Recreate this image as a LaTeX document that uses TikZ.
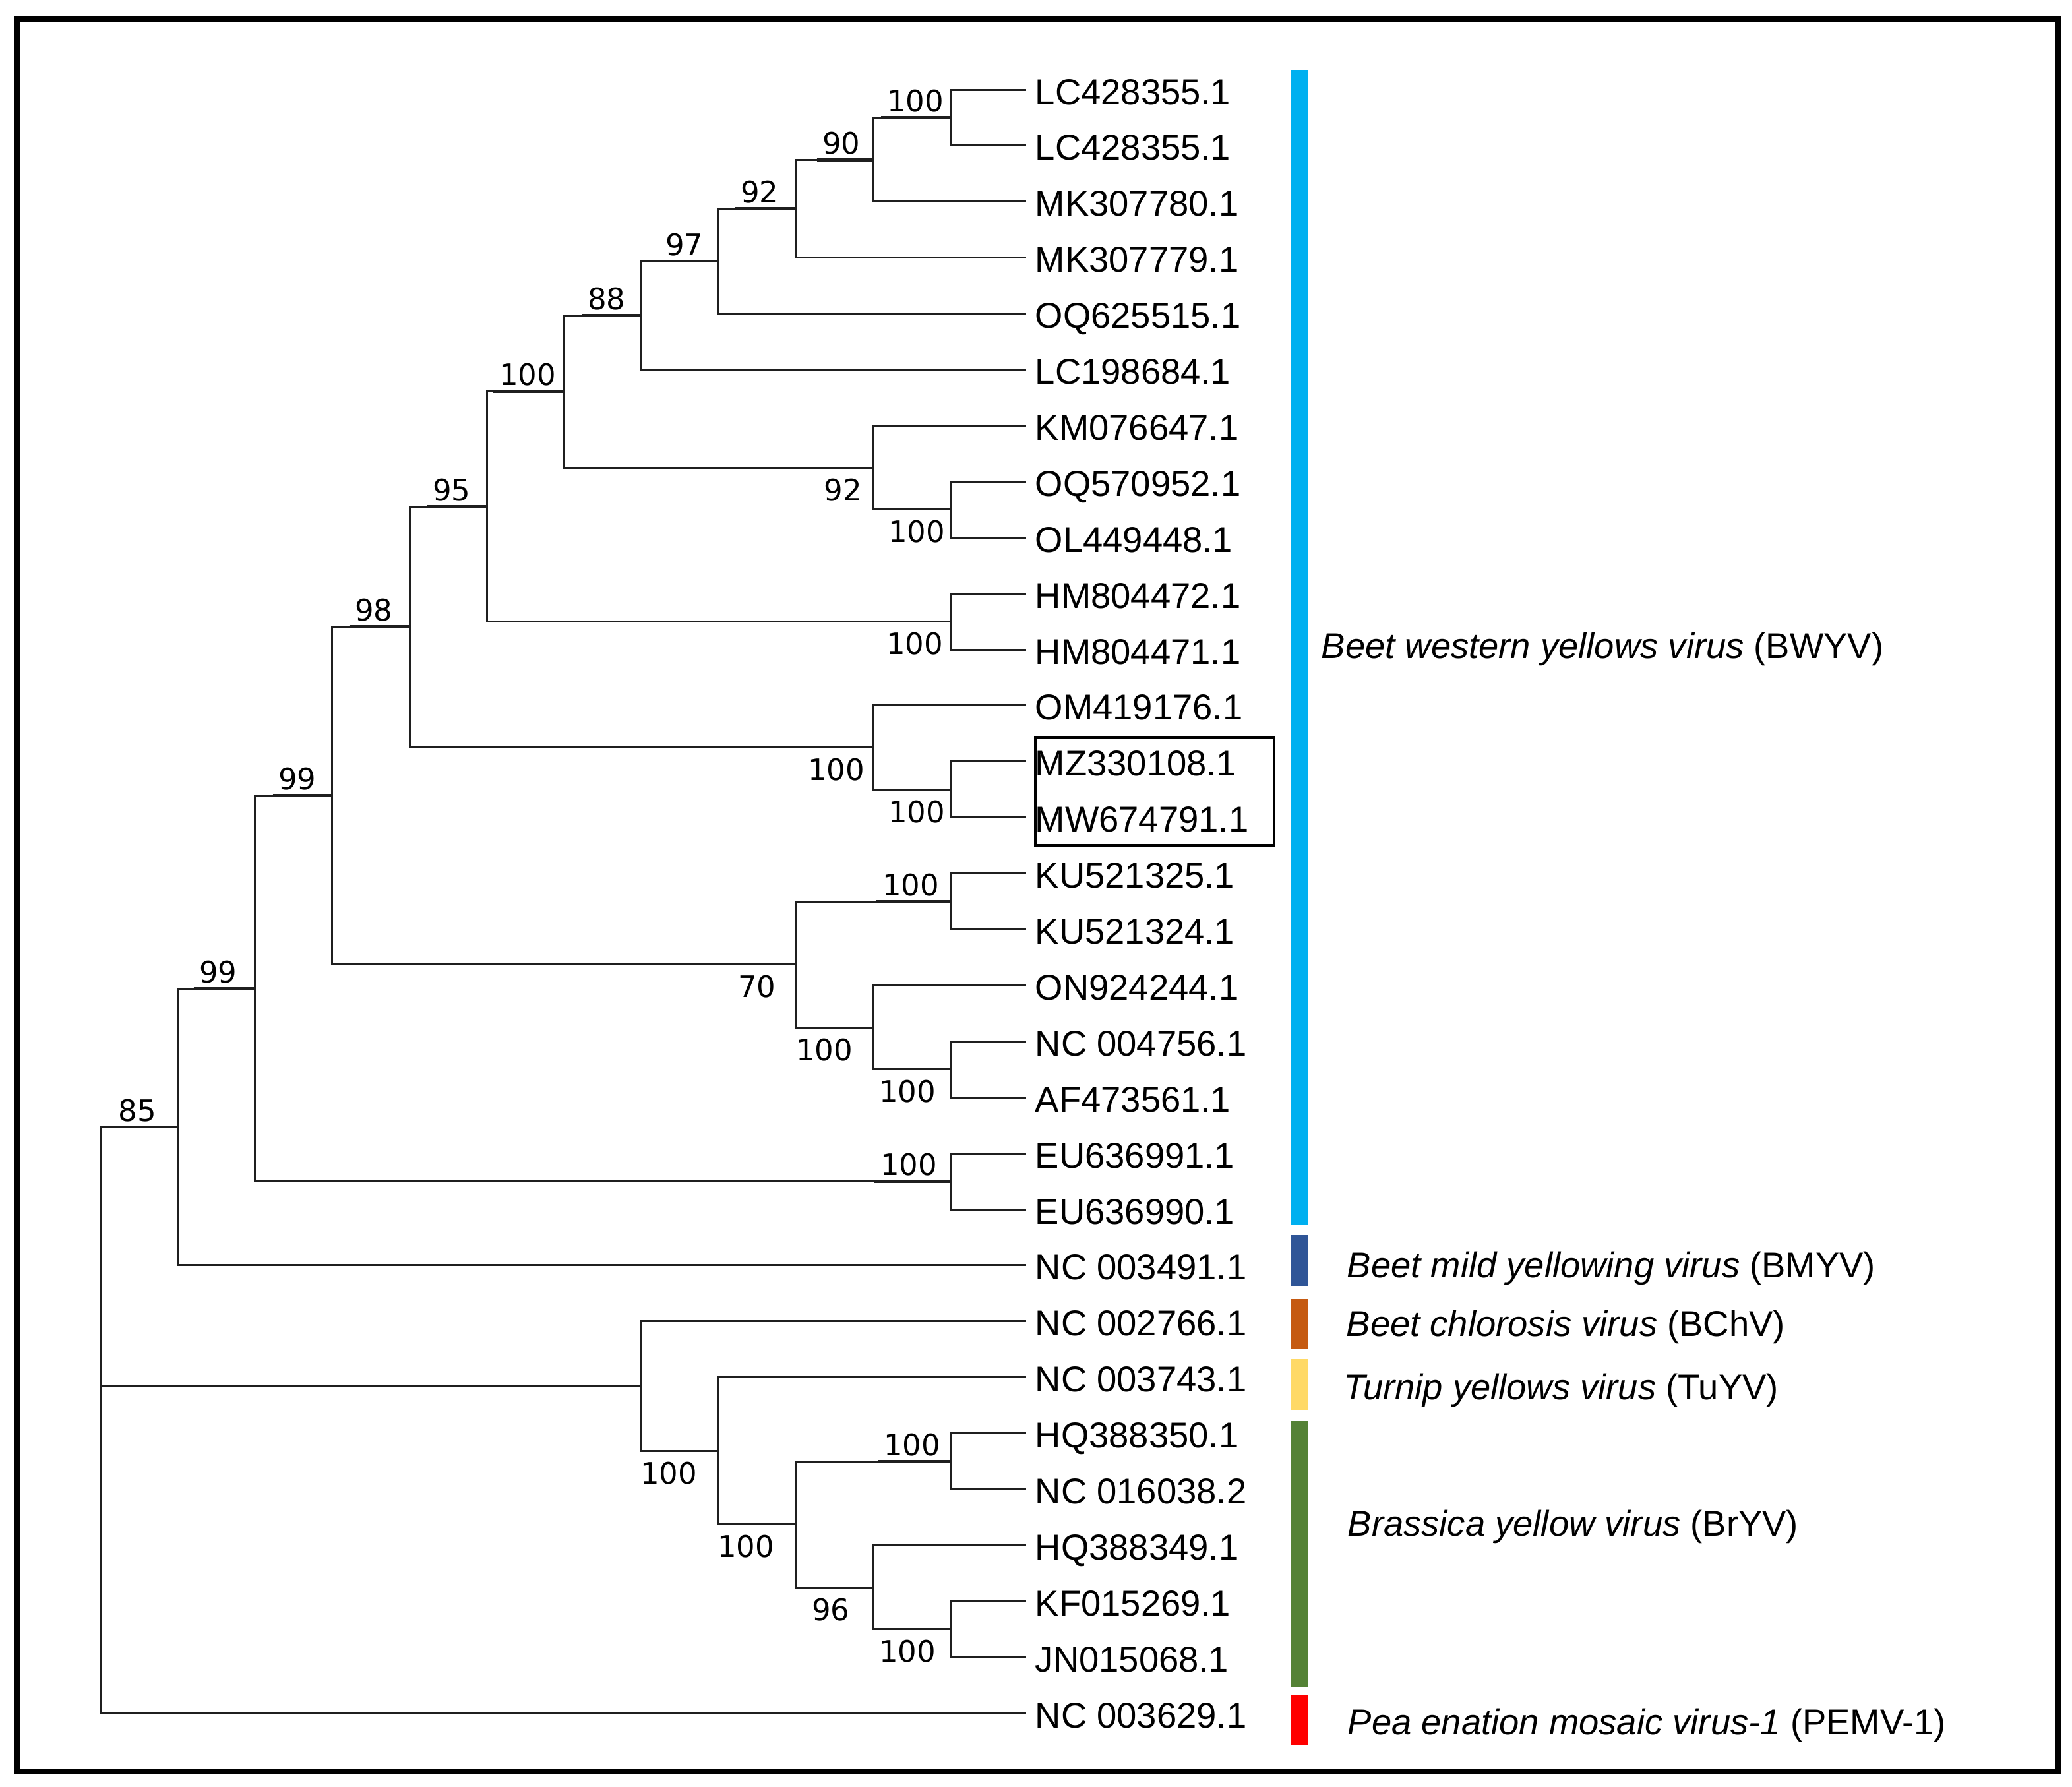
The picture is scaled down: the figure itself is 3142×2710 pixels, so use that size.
\documentclass[tikz,border=0pt]{standalone}
\usepackage{fontspec}
\setmainfont{Liberation Sans}
\newfontfamily\bootfont{DejaVu Sans}
\definecolor{cbwyv}{HTML}{00B0F0}
\definecolor{cbmyv}{HTML}{2F5597}
\definecolor{cbchv}{HTML}{C55A11}
\definecolor{ctuyv}{HTML}{FFD966}
\definecolor{cbryv}{HTML}{548235}
\definecolor{cpemv}{HTML}{FF0000}
\begin{document}
\begin{tikzpicture}[x=0.25pt,y=-0.25pt,
  branch/.style={line width=0.75pt, draw=black!88, line join=miter},
  thickseg/.style={line width=1.2pt, draw=black!88},
  leaf/.style={anchor=base west, inner sep=0pt, font=\fontsize{13.6}{16}\selectfont},
  boot/.style={anchor=base, inner sep=0pt, font=\bootfont\fontsize{11.25}{13}\selectfont},
  legend/.style={anchor=base west, inner sep=0pt, font=\fontsize{13.6}{16}\selectfont},
  frame/.style={line width=2.25pt, draw=black},
  hlbox/.style={line width=0.9pt, draw=black}
]
\useasboundingbox (0,0) rectangle (3142,2710);
\draw[frame] (25.5,28.5) rectangle (3120,2686);

% leaves
\foreach \i/\nm in {1/LC428355.1,2/LC428355.1,3/MK307780.1,4/MK307779.1,5/OQ625515.1,
  6/LC198684.1,7/KM076647.1,8/OQ570952.1,9/OL449448.1,10/HM804472.1,11/HM804471.1,
  12/OM419176.1,13/MZ330108.1,14/MW674791.1,15/KU521325.1,16/KU521324.1,17/ON924244.1,
  18/NC 004756.1,19/AF473561.1,20/EU636991.1,21/EU636990.1,22/NC 003491.1,23/NC 002766.1,
  24/NC 003743.1,25/HQ388350.1,26/NC 016038.2,27/HQ388349.1,28/KF015269.1,29/JN015068.1,
  30/NC 003629.1}{
  \coordinate (t\i) at (1556,{136+(\i-1)*84.9});
  \node[leaf] (n\i) at (1569,{136+(\i-1)*84.9+22}) {\nm};
}

% internal nodes
\coordinate (root) at (152.3,2101.97);
\coordinate (A) at (269.5,1709.0);
\coordinate (B) at (386.7,1499.13);
\coordinate (C) at (503.9,1206.7);
\coordinate (D) at (621.1,950.84);
\coordinate (E) at (738.3,768.1);
\coordinate (F) at (855.5,593.66);
\coordinate (G) at (972.7,478.25);
\coordinate (H) at (1089.9,396.0);
\coordinate (I) at (1207.1,316.41);
\coordinate (J) at (1324.3,242.125);
\coordinate (K) at (1441.5,178.45);
\coordinate (KM) at (1324.3,709.08);
\coordinate (OQ) at (1441.5,772.75);
\coordinate (HM) at (1441.5,942.55);
\coordinate (OM) at (1324.3,1133.58);
\coordinate (MZ) at (1441.5,1197.25);
\coordinate (N70) at (1207.1,1462.56);
\coordinate (KU) at (1441.5,1367.05);
\coordinate (NX) at (1324.3,1558.08);
\coordinate (NCp) at (1441.5,1621.75);
\coordinate (EU) at (1441.5,1791.55);
\coordinate (P1) at (972.7,2101.97);
\coordinate (P2) at (1089.9,2200.13);
\coordinate (P3) at (1207.1,2311.56);
\coordinate (HQ) at (1441.5,2216.05);
\coordinate (P4) at (1324.3,2407.08);
\coordinate (KF) at (1441.5,2470.75);

% branches
\foreach \p/\c in {root/A,root/P1,root/t30,A/B,A/t22,B/C,B/EU,C/D,C/N70,D/E,D/OM,
  E/F,E/HM,F/G,F/KM,G/H,G/t6,H/I,H/t5,I/J,I/t4,J/K,J/t3,K/t1,K/t2,KM/t7,KM/OQ,
  OQ/t8,OQ/t9,HM/t10,HM/t11,OM/t12,OM/MZ,MZ/t13,MZ/t14,N70/KU,N70/NX,KU/t15,KU/t16,
  NX/t17,NX/NCp,NCp/t18,NCp/t19,EU/t20,EU/t21,P1/t23,P1/P2,P2/t24,P2/P3,P3/HQ,P3/P4,
  HQ/t25,HQ/t26,P4/t27,P4/KF,KF/t28,KF/t29}{
  \draw[branch] (\p) |- (\c);
}

% bootstrap values above branches
\foreach \nm/\xc/\nd/\v in {bA/208.4/A/85,bB/331/B/99,bC/451/C/99,bD/567/D/98,bE/685/E/95,
  bF/800/F/100,bG/920/G/88,bH/1038/H/97,bI/1152/I/92,bJ/1276/J/90,bK/1388/K/100,
  bKU/1381/KU/100,bEU/1378/EU/100,bHQ/1383/HQ/100}{
  \path (\nd) ++(0,-9) coordinate (tmp);
  \node[boot] (\nm) at (\xc,0 |- tmp) {\v};
  \draw[thickseg] ([xshift=-2pt]\nm.west |- \nd) -- (\nd);
}
% bootstrap values below branches
\foreach \nm/\xc/\nd/\v in {bKM/1278/KM/92,bOQ/1390/OQ/100,bHM/1387/HM/100,bOM/1268/OM/100,
  bMZ/1390/MZ/100,bN70/1148/N70/70,bNX/1250/NX/100,bNCp/1376/NCp/100,bP2/1014/P2/100,
  bP3/1131/P3/100,bP4/1260/P4/96,bKF/1376/KF/100}{
  \path (\nd) ++(0,50) coordinate (tmp);
  \node[boot] (\nm) at (\xc,0 |- tmp) {\v};
}

% highlight box
\draw[hlbox] (1570,1118) rectangle (1932,1282);

% coloured bars
\fill[cbwyv] (1958,106) rectangle (1984,1857);
\fill[cbmyv] (1958,1873) rectangle (1984,1950);
\fill[cbchv] (1958,1970) rectangle (1984,2046);
\fill[ctuyv] (1958,2061) rectangle (1984,2138);
\fill[cbryv] (1958,2155) rectangle (1984,2558);
\fill[cpemv] (1958,2570) rectangle (1984,2646);

% legend labels
\node[legend] (g1) at (2003,998) {\textit{Beet western yellows virus} (BWYV)};
\node[legend] (g2) at (2042,1937) {\textit{Beet mild yellowing virus} (BMYV)};
\node[legend] (g3) at (2041,2026) {\textit{Beet chlorosis virus} (BChV)};
\node[legend] (g4) at (2037,2122) {\textit{Turnip yellows virus} (TuYV)};
\node[legend] (g5) at (2043,2329) {\textit{Brassica yellow virus} (BrYV)};
\node[legend] (g6) at (2043,2630) {\textit{Pea enation mosaic virus-1} (PEMV-1)};
\end{tikzpicture}
\end{document}
